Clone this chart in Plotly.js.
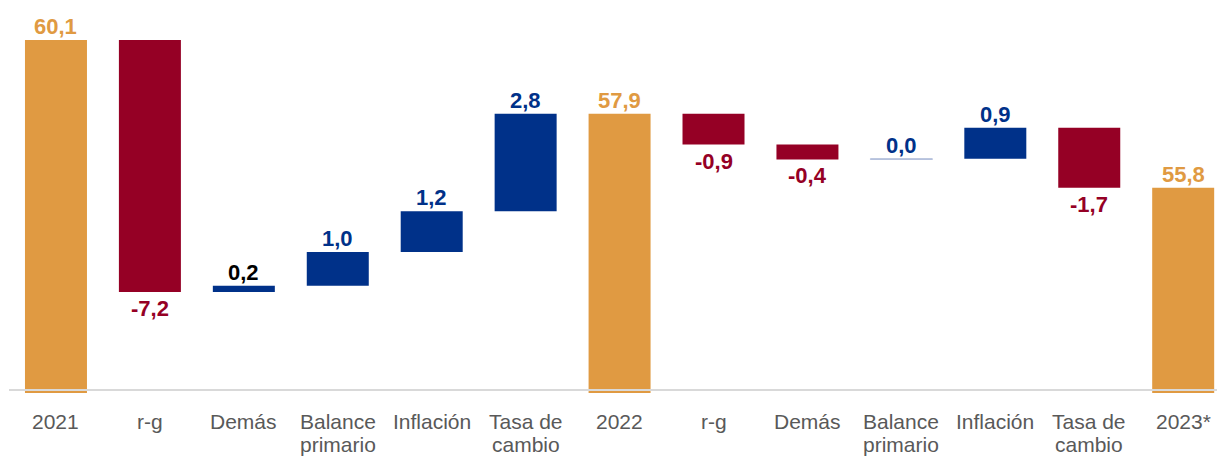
<!DOCTYPE html>
<html>
<head>
<meta charset="utf-8">
<script src="https://cdn.plot.ly/plotly-3.0.1.min.js"></script>
<style>html,body{margin:0;padding:0;background:#fff;}#chart{width:1217px;height:457px;}</style>
</head>
<body>
<div id="chart"></div>
<script>
// ---- data ----
var categories = ['2021', 'r-g', 'Demás', 'Balance<br>primario', 'Inflación', 'Tasa de<br>cambio',
                  '2022', 'r-g', 'Demás', 'Balance<br>primario', 'Inflación', 'Tasa de<br>cambio', '2023*'];
var measures = ['total', 'relative', 'relative', 'relative', 'relative', 'relative',
                'total', 'relative', 'relative', 'relative', 'relative', 'relative', 'total'];
// start level and changes (totals are carried forward from the changes)
var startLevel = 60.10;
var changes = [null, -7.30, 0.18, 0.98, 1.18, 2.82, null, -0.89, -0.43, 0.02, 0.90, -1.74, null];
var labels = ['60,1', '-7,2', '0,2', '1,0', '1,2', '2,8', '57,9', '-0,9', '-0,4', '0,0', '0,9', '-1,7', '55,8'];

// ---- styles ----
var ORANGE = '#E09A42', RED = '#950025', BLUE = '#003189';
var labelColorOverride = {2: '#000000'};
var floorValue = 49.7;
var FONT = 'Arial, "Liberation Sans", sans-serif';

// ---- build ----
var xs = [], bases = [], heights = [], colors = [], lineW = [], lineC = [];
var level = startLevel;
var annotations = [];
for (var i = 0; i < categories.length; i++) {
  xs.push(i);
  var color, labelY, positive;
  if (measures[i] === 'total') {
    if (i === 0) level = startLevel;
    bases.push(floorValue);
    heights.push(level - floorValue);
    color = ORANGE;
    labelY = level; positive = true;
  } else {
    var d = changes[i];
    if (d >= 0) {
      bases.push(level); heights.push(d);
      color = BLUE; labelY = level + d; positive = true;
    } else {
      bases.push(level + d); heights.push(-d);
      color = RED; labelY = level + d; positive = false;
    }
    level = level + d;
  }
  var tiny = (measures[i] !== 'total' && Math.abs(changes[i]) < 0.05);
  colors.push(tiny ? '#b3bfdc' : color);
  lineW.push(tiny ? 1 : 0);
  lineC.push('#b3bfdc');
  annotations.push({
    x: i, y: labelY, xref: 'x', yref: 'y',
    text: '<b>' + labels[i] + '</b>',
    showarrow: false,
    yanchor: positive ? 'bottom' : 'top',
    yshift: positive ? -1 : -2,
    font: {family: FONT, size: 22, color: labelColorOverride[i] || color}
  });
  // category labels (one annotation per line for tight line spacing)
  var parts = categories[i].split('<br>');
  for (var j = 0; j < parts.length; j++) {
    annotations.push({
      x: i, y: 0, xref: 'x', yref: 'paper',
      text: parts[j], showarrow: false,
      yanchor: 'middle', yshift: -(28.5 + j * 23),
      font: {family: FONT, size: 21, color: '#595959'}
    });
  }
}

var trace = {
  type: 'bar',
  x: xs,
  y: heights,
  base: bases,
  width: 0.66,
  marker: {color: colors, line: {width: lineW, color: lineC}},
  hoverinfo: 'skip'
};

var layout = {
  width: 1217, height: 457,
  margin: {l: 9, r: 0, t: 0, b: 64},
  paper_bgcolor: '#ffffff', plot_bgcolor: '#ffffff',
  showlegend: false,
  xaxis: {
    range: [-0.5, 12.36],
    tickmode: 'array', tickvals: xs,
    showticklabels: false,
    showgrid: false, zeroline: false, showline: false, ticks: '', fixedrange: true
  },
  yaxis: {range: [49.87, 61.26], visible: false, fixedrange: true},
  shapes: [{
    type: 'line', xref: 'paper', x0: 0, x1: 1, yref: 'y', y0: 49.955, y1: 49.955,
    line: {color: '#d9d9d9', width: 2}, layer: 'above'
  }],
  annotations: annotations
};

Plotly.newPlot('chart', [trace], layout, {displayModeBar: false, staticPlot: true});
</script>
</body>
</html>
